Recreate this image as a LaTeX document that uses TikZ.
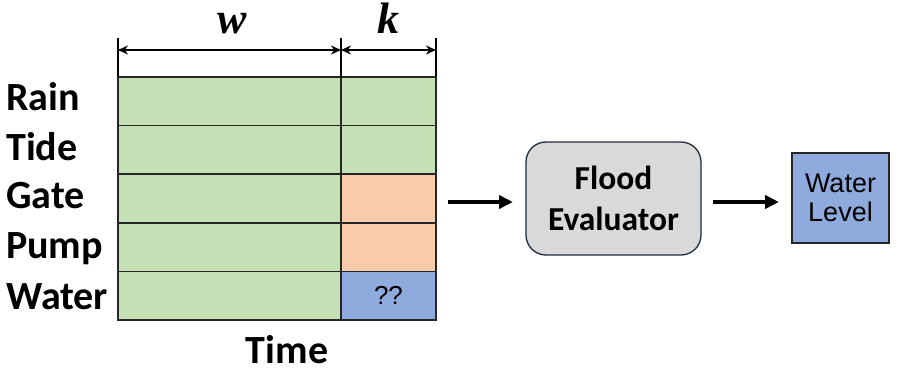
\documentclass[tikz,border=0pt]{standalone}
\usepackage{fontspec}
\setmainfont{Carlito}
\newfontfamily\arialf{Liberation Sans}
\newfontfamily\mathf{Liberation Serif}
\usetikzlibrary{arrows.meta}
\definecolor{cgreen}{HTML}{C5E0B4}
\definecolor{corange}{HTML}{F8CBAD}
\definecolor{cblue}{HTML}{8FAADC}
\definecolor{cgray}{HTML}{D9D9D9}
\definecolor{cedge}{HTML}{262626}
\definecolor{cnavy}{HTML}{1F2D3D}
\begin{document}
\begin{tikzpicture}[x=1pt,y=-1pt,
  cell/.style={draw=cedge,line width=1.7pt,minimum height=48.6pt,inner sep=0pt,outer sep=0pt,anchor=north west},
  wcell/.style={cell,minimum width=223pt,fill=cgreen},
  kcell/.style={cell,minimum width=95pt},
  lab/.style={anchor=base west,inner sep=0pt,font=\fontsize{40}{42}\selectfont\bfseries},
  dim/.style={line width=2.4pt,{Stealth[length=10pt,width=9pt]}-{Stealth[length=10pt,width=9pt]}},
  tick/.style={line width=1.6pt},
  bigarrow/.style={line width=3.6pt,-{Triangle[length=14pt,width=13pt]}}]
\useasboundingbox (0,0) rectangle (900,372);
% grid
\foreach \r/\y/\kc in {1/77/cgreen,2/125.6/cgreen,3/174.2/corange,4/222.8/corange,5/271.4/cblue}{
  \node[wcell] (w\r) at (118,\y) {};
  \node[kcell,fill=\kc] (k\r) at (341,\y) {};
}
\node[font=\arialf\fontsize{26}{28}\selectfont] at (k5.center) {??};
% dimension ticks
\coordinate (t1) at (118,38);
\coordinate (t2) at (341,38);
\coordinate (t3) at (436,38);
\draw[tick] (t1) -- (w1.north west);
\draw[tick] (t2) -- (k1.north west);
\draw[tick] (t3) -- (k1.north east);
\coordinate (a1) at (118,50);
\coordinate (a2) at (341,50);
\coordinate (a3) at (436,50);
\draw[dim] (a1) -- (a2);
\draw[dim] (a2) -- (a3);
\node[font=\mathf\fontsize{44}{46}\selectfont\bfseries\itshape,anchor=base] (lw) at (232,33) {w};
\node[font=\mathf\fontsize{44}{46}\selectfont\bfseries\itshape,anchor=base] (lk) at (388,33) {k};
% row labels
\node[lab] (lrain) at (6,110) {Rain};
\node[lab] (ltide) at (6,160) {Tide};
\node[lab] (lgate) at (6,208) {Gate};
\node[lab] (lpump) at (6,258) {Pump};
\node[lab] (lwater) at (6,309) {Water};
\node[lab,anchor=base] (ltime) at (287,363) {Time};
% flood evaluator
\node[draw=cnavy,fill=cgray,line width=1.3pt,rounded corners=20pt,minimum width=175pt,minimum height=113pt,
  align=center,font=\fontsize{33.5}{41}\selectfont\bfseries] (fe) at (613.5,198.5) {Flood\\Evaluator};
\node[draw=cedge,fill=cblue,line width=1.5pt,minimum width=97pt,minimum height=90pt,inner sep=0pt,
  align=center,font=\arialf\fontsize{27}{29}\selectfont] (wl) at (840.5,198) {Water\\Level};
\coordinate (s1) at (448,202);
\coordinate (s2) at (513,202);
\draw[bigarrow] (s1) -- (s2);
\coordinate (s3) at (713,202);
\coordinate (s4) at (779,202);
\draw[bigarrow] (s3) -- (s4);
\end{tikzpicture}
\end{document}
